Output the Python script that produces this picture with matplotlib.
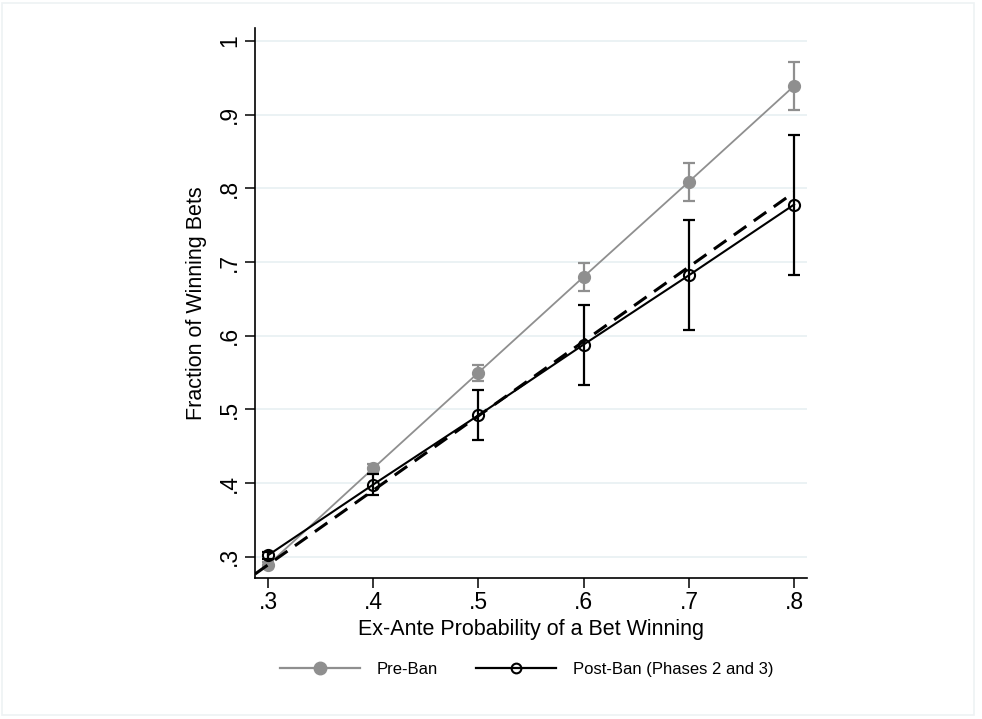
import matplotlib
matplotlib.use("Agg")
import matplotlib.pyplot as plt
from matplotlib.lines import Line2D
from matplotlib.patches import Rectangle

plt.rcParams['font.family'] = ['Liberation Sans', 'DejaVu Sans']

x = [0.3, 0.4, 0.5, 0.6, 0.7, 0.8]
pre_ban = [0.289, 0.420, 0.550, 0.680, 0.809, 0.939]
pre_lo = [0.285, 0.414, 0.538, 0.661, 0.783, 0.906]
pre_hi = [0.293, 0.426, 0.560, 0.699, 0.835, 0.972]
post_ban = [0.302, 0.398, 0.492, 0.588, 0.682, 0.778]
post_lo = [0.297, 0.384, 0.458, 0.533, 0.608, 0.682]
post_hi = [0.307, 0.412, 0.526, 0.642, 0.757, 0.872]
fit_x = [0.2876, 0.8]
fit_y = [0.2765, 0.7945]
xticks = [0.3, 0.4, 0.5, 0.6, 0.7, 0.8]
xticklabels = ['.3', '.4', '.5', '.6', '.7', '.8']
yticks = [0.3, 0.4, 0.5, 0.6, 0.7, 0.8, 0.9, 1.0]
yticklabels = ['.3', '.4', '.5', '.6', '.7', '.8', '.9', '1']

fig = plt.figure(figsize=(9.82, 7.19), dpi=100)
fig.patches.append(Rectangle((0.002, 0.006), 0.99, 0.99, transform=fig.transFigure,
                             fill=False, edgecolor='#eef2f4', linewidth=1.2))
ax = fig.add_axes([0.2597, 0.1957, 0.5618, 0.7653])

gray = '#8f8f8f'
ax.errorbar(x, pre_ban,
            yerr=[[p - l for p, l in zip(pre_ban, pre_lo)], [h - p for p, h in zip(pre_ban, pre_hi)]],
            fmt='none', ecolor=gray, elinewidth=1.6, capsize=4.5, capthick=1.6, zorder=2)
ax.plot(x, pre_ban, color=gray, linewidth=1.3, marker='o', markersize=8.5,
        markerfacecolor=gray, markeredgecolor=gray, zorder=3)
ax.errorbar(x, post_ban,
            yerr=[[p - l for p, l in zip(post_ban, post_lo)], [h - p for p, h in zip(post_ban, post_hi)]],
            fmt='none', ecolor='black', elinewidth=1.6, capsize=4.5, capthick=1.6, zorder=4)
ax.plot(x, post_ban, color='black', linewidth=1.5, marker='o', markersize=8,
        markerfacecolor='none', markeredgecolor='black', markeredgewidth=1.5, zorder=5)
ax.plot(fit_x, fit_y, color='black', linewidth=2.2, linestyle=(0, (5, 3)), zorder=4)

ax.set_xlim(0.2876, 0.812)
ax.set_ylim(0.2707, 1.0176)
ax.set_xticks(xticks)
ax.set_xticklabels(xticklabels)
ax.set_yticks(yticks)
ax.set_yticklabels(yticklabels, rotation=90, va='center')
ax.grid(axis='y', color='#e8f0f2', linewidth=1.2)
ax.set_axisbelow(True)
for s in ['top', 'right']:
    ax.spines[s].set_visible(False)
for s in ['left', 'bottom']:
    ax.spines[s].set_linewidth(1.2)
ax.tick_params(axis='both', labelsize=16.5, length=7, width=1.1, color='black')
ax.tick_params(axis='y', pad=3)
ax.tick_params(axis='x', pad=2)
ax.set_xlabel('Ex-Ante Probability of a Bet Winning', fontsize=15.5, labelpad=4)
ax.set_ylabel('Fraction of Winning Bets', fontsize=15.5, labelpad=8)

handles = [
    Line2D([0], [0], color=gray, linewidth=1.6, marker='o', markersize=9,
           markerfacecolor=gray, markeredgecolor=gray),
    Line2D([0], [0], color='black', linewidth=1.6, marker='o', markersize=7,
           markerfacecolor='none', markeredgecolor='black', markeredgewidth=1.5),
]
fig.legend(handles, ['Pre-Ban', 'Post-Ban (Phases 2 and 3)'], loc='center',
           bbox_to_anchor=(0.536, 0.069), ncol=2, frameon=False, fontsize=12,
           handlelength=4.8, columnspacing=2.3, handletextpad=1.0)

fig.savefig('out.png', dpi=100)
